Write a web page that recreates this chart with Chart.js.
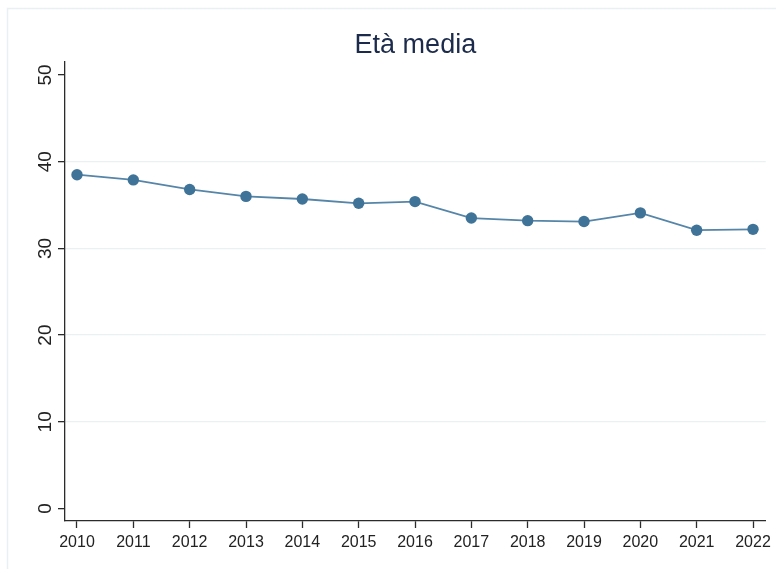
<!DOCTYPE html>
<html>
<head>
<meta charset="utf-8">
<script src="https://cdn.jsdelivr.net/npm/chart.js@4"></script>
<style>
  html, body { margin: 0; padding: 0; background: #fff; }
  #wrap { width: 776px; height: 569px; }
</style>
</head>
<body>
<div id="wrap"><canvas id="chart" width="776" height="569"></canvas></div>
<script>
// dati
const years = [2010, 2011, 2012, 2013, 2014, 2015, 2016, 2017, 2018, 2019, 2020, 2021, 2022];
const etaMedia = [38.5, 37.9, 36.8, 36.0, 35.7, 35.2, 35.4, 33.5, 33.2, 33.1, 34.1, 32.1, 32.2];
const yTicks = [0, 10, 20, 30, 40, 50];
const titolo = "Età media";

// cornice leggera attorno al grafico
const framePlugin = {
  id: "frame",
  beforeDraw(chart) {
    const ctx = chart.ctx;
    ctx.save();
    ctx.fillStyle = "#fff";
    ctx.fillRect(0, 0, chart.width, chart.height);
    ctx.strokeStyle = "#e9f0f1";
    ctx.lineWidth = 1.5;
    ctx.beginPath();
    ctx.moveTo(7.5, chart.height + 2);
    ctx.lineTo(7.5, 8.5);
    ctx.lineTo(chart.width + 2, 8.5);
    ctx.stroke();
    ctx.restore();
  }
};

new Chart(document.getElementById("chart"), {
  type: "line",
  data: {
    datasets: [{
      data: years.map((y, i) => ({ x: y, y: etaMedia[i] })),
      borderColor: "#5585a8",
      borderWidth: 1.8,
      pointRadius: 5.7,
      pointBackgroundColor: "#3f7398",
      pointBorderWidth: 0,
      tension: 0
    }]
  },
  options: {
    responsive: false,
    animation: false,
    layout: { padding: { left: 0, right: 10, top: 0, bottom: 0 } },
    plugins: {
      legend: { display: false },
      tooltip: { enabled: false },
      title: {
        display: true,
        fullSize: false,
        text: titolo,
        color: "#1c2b4b",
        font: { family: "'Liberation Sans', Arial, sans-serif", size: 27, weight: "normal" },
        padding: { top: 29, bottom: 0.6 }
      }
    },
    scales: {
      x: {
        type: "linear",
        min: 2009.787,
        max: 2022.226,
        afterBuildTicks: s => { s.ticks = years.map(v => ({ value: v })); },
        afterFit: s => { s.height = 48; },
        border: { display: true, color: "#2b2b2b", width: 1.3 },
        grid: { drawOnChartArea: false, drawTicks: true, tickLength: 7, tickColor: "#2b2b2b", tickWidth: 1.3 },
        ticks: {
          autoSkip: false,
          maxRotation: 0,
          padding: 5,
          color: "#222",
          font: { family: "'Liberation Sans', Arial, sans-serif", size: 16 },
          callback: v => String(v)
        }
      },
      y: {
        min: -1.44,
        max: 51.5,
        afterBuildTicks: s => { s.ticks = yTicks.map(v => ({ value: v })); },
        afterFit: s => { s.width = 65; },
        border: { display: true, color: "#2b2b2b", width: 1.3 },
        grid: {
          drawTicks: true,
          tickLength: 7,
          tickColor: "#2b2b2b",
          tickWidth: 1.3,
          lineWidth: 1.3,
          color: c => (c.tick && c.tick.value > 0 && c.tick.value < 50) ? "#eaf1f3" : "rgba(0,0,0,0)"
        },
        ticks: {
          minRotation: 90,
          maxRotation: 90,
          crossAlign: "center",
          padding: 2,
          color: "#222",
          font: { family: "'Liberation Sans', Arial, sans-serif", size: 19 },
          callback: v => String(v)
        }
      }
    }
  },
  plugins: [framePlugin]
});
</script>
</body>
</html>
